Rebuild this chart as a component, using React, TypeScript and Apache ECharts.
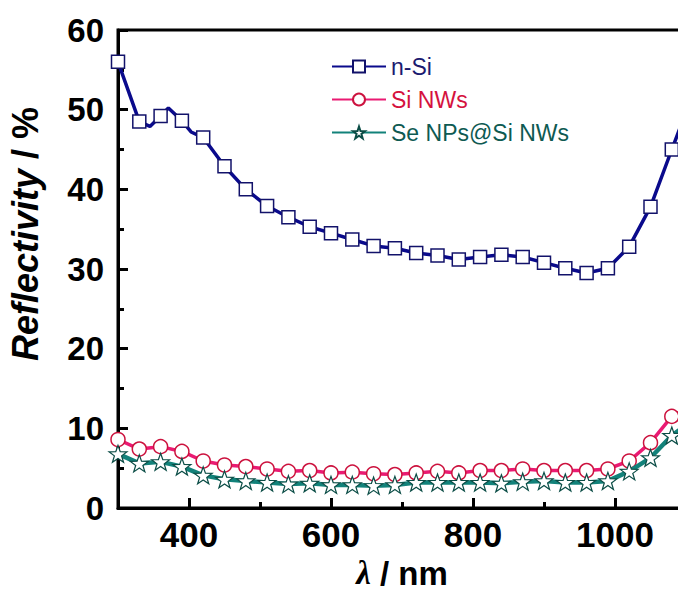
import React, { useEffect, useRef } from "react";
import * as echarts from "echarts";

// Wavelength grid (nm); the final point lies just past the visible axis end.
const wavelengths = [
  300, 330, 360, 390, 420, 450, 480, 510, 540, 570, 600, 630, 660, 690, 720,
  750, 780, 810, 840, 870, 900, 930, 960, 990, 1020, 1050, 1080, 1110,
];

// Reflectivity (%) per wavelength
const nSi = [
  56.0, 48.5, 49.2, 48.6, 46.5, 42.9, 40.0, 37.9, 36.5, 35.3, 34.5, 33.7, 32.9,
  32.6, 32.0, 31.7, 31.2, 31.5, 31.8, 31.5, 30.8, 30.1, 29.5, 30.1, 32.8, 37.8,
  45.0, 52.0,
];
const siNWs = [
  8.6, 7.4, 7.7, 7.1, 5.9, 5.4, 5.2, 4.9, 4.6, 4.7, 4.4, 4.5, 4.3, 4.2, 4.4,
  4.6, 4.4, 4.7, 4.7, 4.9, 4.7, 4.7, 4.7, 4.9, 5.9, 8.2, 11.5, 13.0,
];
const seNPsSiNWs = [
  6.8, 5.6, 5.8, 5.2, 4.1, 3.6, 3.4, 3.2, 3.0, 3.1, 2.9, 2.9, 2.8, 2.9, 3.2,
  3.2, 3.2, 3.2, 3.1, 3.3, 3.4, 3.2, 3.2, 3.4, 4.6, 6.3, 9.1, 11.0,
];

// Extra measured points of the n-Si trace between markers (no symbol)
const nSiTraceX = [345, 371, 403];
const nSiTraceY = [47.9, 50.2, 47.2];

const xMajorTicks = [400, 600, 800, 1000];
const xMinorTicks = [500, 700, 900];

const seriesNames = ["n-Si", "Si NWs", "Se NPs@Si NWs"];

const STAR =
  "path://M0,-10 L2.351,-3.236 L9.511,-3.09 L3.804,1.236 L5.878,8.09 L0,4 L-5.878,8.09 L-3.804,1.236 L-9.511,-3.09 L-2.351,-3.236 Z";

const FONT = 'Arial, "Liberation Sans", sans-serif';

function pairs(xs: number[], ys: number[]) {
  return xs.map((x, i) => [x, ys[i]]);
}

export default function App() {
  const ref = useRef<HTMLDivElement>(null);

  useEffect(() => {
    document.body.style.margin = "0";
    if (!ref.current) return;
    const chart = echarts.init(ref.current, undefined, { renderer: "svg" });

    const nSiData: any[] = pairs(wavelengths, nSi).map((p) => ({ value: p }));
    nSiTraceX.forEach((x, i) => {
      nSiData.push({ value: [x, nSiTraceY[i]], symbol: "none" });
    });
    nSiData.sort((a, b) => a.value[0] - b.value[0]);

    const baseX = {
      type: "value" as const,
      min: 300,
      max: 1100,
      splitLine: { show: false },
      position: "bottom" as const,
    };

    chart.setOption({
      animation: false,
      backgroundColor: "#ffffff",
      grid: {
        left: 118,
        top: 30,
        bottom: 84,
        right: -8,
        containLabel: false,
        outerBoundsMode: "none",
        show: true,
        borderColor: "#000",
        borderWidth: 3,
      },
      legend: {
        orient: "vertical",
        left: 326,
        top: 50,
        itemWidth: 54,
        itemHeight: 15,
        itemGap: 10,
        textStyle: { fontFamily: FONT, fontSize: 23 },
        data: [
          { name: seriesNames[0], textStyle: { color: "#1b1b70" } },
          { name: seriesNames[1], textStyle: { color: "#d5123e" } },
          { name: seriesNames[2], textStyle: { color: "#0e5a52" } },
        ],
      },
      xAxis: [
        {
          ...baseX,
          name: "{l|λ}{b| / nm}",
          nameLocation: "middle",
          nameGap: 47,
          nameTextStyle: {
            lineHeight: 30,
            rich: {
              l: {
                fontFamily: '"Liberation Serif", "DejaVu Serif", serif',
                fontStyle: "italic",
                fontWeight: "bold",
                fontSize: 33,
                lineHeight: 30,
                color: "#000",
              },
              b: {
                fontFamily: FONT,
                fontWeight: "bold",
                fontSize: 33,
                lineHeight: 30,
                color: "#000",
              },
            },
          },
          axisLine: { show: true, lineStyle: { color: "#000", width: 3 } },
          axisTick: {
            show: true,
            inside: true,
            length: 10,
            customValues: xMajorTicks,
            lineStyle: { color: "#000", width: 3 },
          },
          axisLabel: {
            customValues: xMajorTicks,
            formatter: (v: number) => String(v),
            margin: 9,
            color: "#000",
            fontFamily: FONT,
            fontWeight: "bold",
            fontSize: 35,
          },
        },
        {
          ...baseX,
          axisLine: { show: true, lineStyle: { color: "rgba(0,0,0,0)", width: 3 } },
          axisLabel: {
            show: true,
            customValues: xMinorTicks,
            formatter: () => "",
          },
          axisTick: {
            show: true,
            inside: true,
            length: 6,
            customValues: xMinorTicks,
            lineStyle: { color: "#000", width: 3 },
          },
        },
      ],
      yAxis: {
        type: "value",
        min: 0,
        max: 60,
        interval: 10,
        splitLine: { show: false },
        name: "{i|Reflectivity}{b| / %}",
        nameLocation: "middle",
        nameGap: 75,
        nameRotate: 90,
        nameTextStyle: {
          padding: [0, 0, 0, 70],
          rich: {
            i: {
              fontFamily: FONT,
              fontStyle: "italic",
              fontWeight: "bold",
              fontSize: 36,
              color: "#000",
            },
            b: {
              fontFamily: FONT,
              fontWeight: "bold",
              fontSize: 36,
              color: "#000",
            },
          },
        },
        axisLine: { show: true, lineStyle: { color: "#000", width: 3 } },
        axisTick: {
          show: true,
          inside: true,
          length: 10,
          lineStyle: { color: "#000", width: 3 },
        },
        minorTick: {
          show: true,
          splitNumber: 2,
          length: 6,
          lineStyle: { color: "#000", width: 3 },
        },
        axisLabel: {
          margin: 14,
          color: "#000",
          fontFamily: FONT,
          fontWeight: "bold",
          fontSize: 33,
        },
      },
      series: [
        {
          name: seriesNames[0],
          type: "line",
          xAxisIndex: 0,
          data: nSiData,
          symbol: "rect",
          symbolSize: 13,
          showAllSymbol: true,
          lineStyle: { color: "#0a0a8c", width: 3.5 },
          itemStyle: { color: "#ffffff", borderColor: "#12126a", borderWidth: 1.5 },
          z: 2,
        },
        {
          name: seriesNames[1],
          type: "line",
          xAxisIndex: 0,
          data: pairs(wavelengths, siNWs),
          symbol: "circle",
          symbolSize: 14,
          showAllSymbol: true,
          lineStyle: { color: "#ea1a72", width: 3.5 },
          itemStyle: { color: "#ffffff", borderColor: "#cc123e", borderWidth: 1.5 },
          z: 3,
        },
        {
          name: seriesNames[2],
          type: "line",
          xAxisIndex: 0,
          data: pairs(wavelengths, seNPsSiNWs),
          symbol: STAR,
          symbolSize: [18, 17],
          showAllSymbol: true,
          lineStyle: { color: "#12827a", width: 4.5 },
          itemStyle: { color: "#ffffff", borderColor: "#0b4d46", borderWidth: 1.2 },
          z: 4,
        },
      ],
    });

    return () => chart.dispose();
  }, []);

  return <div ref={ref} style={{ width: 678, height: 592 }} />;
}
